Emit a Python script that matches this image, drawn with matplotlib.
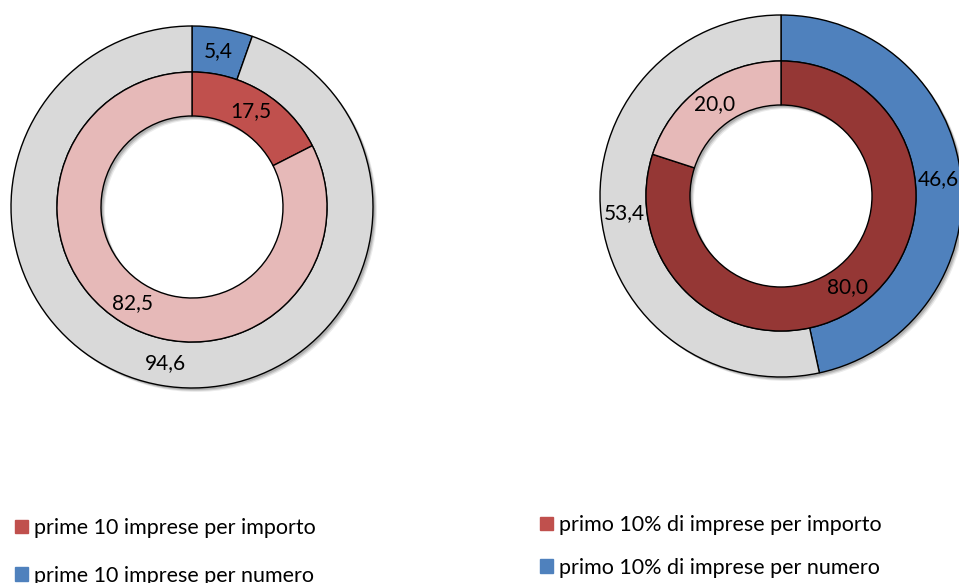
import matplotlib
matplotlib.use("Agg")
import matplotlib.pyplot as plt
from matplotlib.patches import Patch, Wedge

plt.rcParams["font.family"] = ["Lato", "DejaVu Sans"]

# left chart: prime 10 imprese
left_outer = [5.4, 94.6]     # per numero, resto
left_inner = [17.5, 82.5]    # per importo, resto
# right chart: primo 10% di imprese
right_outer = [46.6, 53.4]
right_inner = [80.0, 20.0]

left_labels = ["prime 10 imprese per importo", "prime 10 imprese per numero"]
right_labels = ["primo 10% di imprese per importo", "primo 10% di imprese per numero"]

BLUE = "#4F81BD"
RED = "#C0504D"
PINK = "#E6B9B8"
GREY = "#D9D9D9"
DARKRED = "#953735"

W, H = 959, 583
R_OUT, R_MID, R_HOLE = 181, 135, 91

fig = plt.figure(figsize=(W / 100, H / 100), dpi=100)
ax = fig.add_axes([0, 0, 1, 1])

fmt = lambda p: f"{p:.1f}".replace(".", ",")


def ring(vals, colors, center, r, width):
    mid = (r - width / 2) / r
    wedges, _, texts = ax.pie(vals, colors=colors, center=center, radius=r,
                              startangle=90, counterclock=False, autopct=fmt,
                              pctdistance=mid, frame=True,
                              wedgeprops=dict(width=width, edgecolor="black", linewidth=1))
    for t in texts:
        t.set_fontsize(15)
        t.set_color("black")
    return wedges


def drop_shadow(center):
    # soft shadow under the whole donut, offset down-right
    for k, a in [(4, 0.08), (3, 0.12), (2, 0.15)]:
        ax.add_patch(Wedge((center[0] + k, center[1] - k), R_OUT, 0, 360,
                           width=R_OUT - R_HOLE, facecolor="black", alpha=a,
                           edgecolor="none", zorder=0))


# centres given in pixels from the top, y axis runs upward
lc = (192, H - 207)
rc = (781, H - 196)
drop_shadow(lc)
drop_shadow(rc)
ring(left_outer, [BLUE, GREY], lc, R_OUT, R_OUT - R_MID)
ring(left_inner, [RED, PINK], lc, R_MID, R_MID - R_HOLE)
ring(right_outer, [BLUE, GREY], rc, R_OUT, R_OUT - R_MID)
ring(right_inner, [DARKRED, PINK], rc, R_MID, R_MID - R_HOLE)
ax.set_xlim(0, W)
ax.set_ylim(0, H)
ax.set_aspect("equal")
ax.axis("off")

leg_kw = dict(frameon=False, fontsize=15.5, handlelength=0.6, handleheight=0.6,
              handletextpad=0.3, borderpad=0, borderaxespad=0)
leg1 = fig.legend(handles=[Patch(color=RED), Patch(color=BLUE)], labels=left_labels,
                  loc="upper left", bbox_to_anchor=(15 / W, 1 - 518 / H),
                  labelspacing=1.28, **leg_kw)
leg2 = fig.legend(handles=[Patch(color=RED), Patch(color=BLUE)], labels=right_labels,
                  loc="upper left", bbox_to_anchor=(540 / W, 1 - 515 / H),
                  labelspacing=1.05, **leg_kw)

fig.savefig("out.png", dpi=100)
